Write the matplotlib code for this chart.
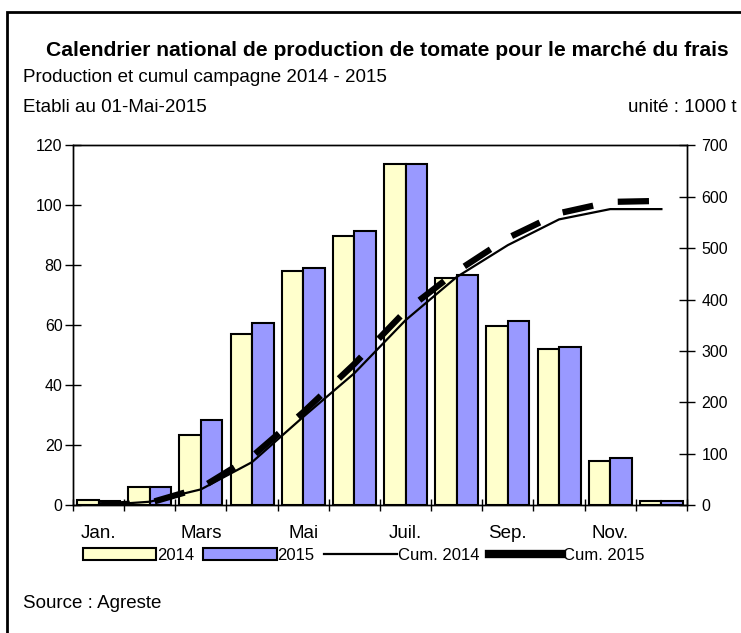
import numpy as np
import matplotlib
matplotlib.use('Agg')
import matplotlib.pyplot as plt
from matplotlib.patches import Rectangle, Patch
from matplotlib.lines import Line2D

plt.rcParams['font.family'] = ['Liberation Sans', 'DejaVu Sans']

months = ['Jan.', 'Fév.', 'Mars', 'Avr.', 'Mai', 'Juin',
          'Juil.', 'Août', 'Sep.', 'Oct.', 'Nov.', 'Déc.']
prod_2014 = [1.7, 6.2, 23.6, 57.0, 78.0, 89.9, 113.7, 75.9, 59.9, 52.1, 14.9, 1.5]
prod_2015 = [1.5, 6.2, 28.4, 60.8, 79.1, 91.5, 113.7, 76.7, 61.3, 52.9, 15.8, 1.5]
cum_2014 = [0, 7, 31, 84, 172, 257, 360, 444, 506, 556, 576, 576]
cum_2015 = [0, 5, 34, 95, 181, 275, 378, 455, 520, 568, 590, 592]

yellow = '#FFFFCC'
blue = '#9999FF'

fig = plt.figure(figsize=(7.41, 6.33), dpi=100)
ax = fig.add_axes([0.0985, 0.2017, 0.8286, 0.5687])

x = np.arange(len(months))
w = 0.42
ax.bar(x - w / 2, prod_2014, w, color=yellow, edgecolor='black', linewidth=1.5)
ax.bar(x + w / 2, prod_2015, w, color=blue, edgecolor='black', linewidth=1.5)

ax.set_xlim(-0.5, 11.5)
ax.set_ylim(0, 120)
ax.set_yticks(range(0, 121, 20))
ax.set_xticks(np.arange(-0.5, 12, 1))
ax.set_xticklabels([])
ax.set_xticks(x[::2], minor=True)
ax.set_xticklabels(months[::2], minor=True)
ax.tick_params(axis='x', which='major', direction='inout', length=8, width=1)
ax.tick_params(axis='x', which='minor', length=0, pad=14, labelsize=13.5)
ax.tick_params(axis='y', direction='inout', length=11, width=1, pad=2, labelsize=11.5)

ax2 = ax.twinx()
ax2.plot(x, cum_2014, color='black', linewidth=1.6)
ax2.plot(x, cum_2015, color='black', linewidth=4.5, linestyle=(0, (5, 4)),
         dash_capstyle='butt')
ax2.set_ylim(0, 700)
ax2.set_yticks(range(0, 701, 100))
ax2.tick_params(axis='y', direction='inout', length=11, width=1, pad=5, labelsize=11.5)

for a in (ax, ax2):
    for s in a.spines.values():
        s.set_linewidth(1)

handles = [Patch(facecolor=yellow, edgecolor='black', linewidth=1.5),
           Patch(facecolor=blue, edgecolor='black', linewidth=1.5),
           Line2D([], [], color='black', linewidth=1.6),
           Line2D([], [], color='black', linewidth=6)]
fig.legend(handles, ['2014', '2015', 'Cum. 2014', 'Cum. 2015'], ncol=4,
           loc='center left', bbox_to_anchor=(83 / 741, 1 - 555 / 633),
           frameon=False, fontsize=12, handlelength=4.4, handletextpad=0.05,
           columnspacing=0.55, borderaxespad=0, borderpad=0)

fig.text(387 / 741, 1 - 50 / 633, 'Calendrier national de production de tomate pour le marché du frais',
         ha='center', va='center', fontsize=15.2, fontweight='bold')
fig.text(23 / 741, 1 - 78 / 633, 'Production et cumul campagne 2014 - 2015',
         ha='left', va='center', fontsize=13.5)
fig.text(23 / 741, 1 - 108 / 633, 'Etabli au 01-Mai-2015', ha='left', va='center', fontsize=13.5)
fig.text(737 / 741, 1 - 108 / 633, 'unité : 1000 t', ha='right', va='center', fontsize=13.5)
fig.text(23 / 741, 1 - 604 / 633, 'Source : Agreste', ha='left', va='center', fontsize=13.5)

fig.patches.append(Rectangle((7 / 741, -0.1), 2, 1.1 - 12 / 633, transform=fig.transFigure,
                             fill=False, edgecolor='black', linewidth=2))

fig.savefig('out.png', dpi=100)
